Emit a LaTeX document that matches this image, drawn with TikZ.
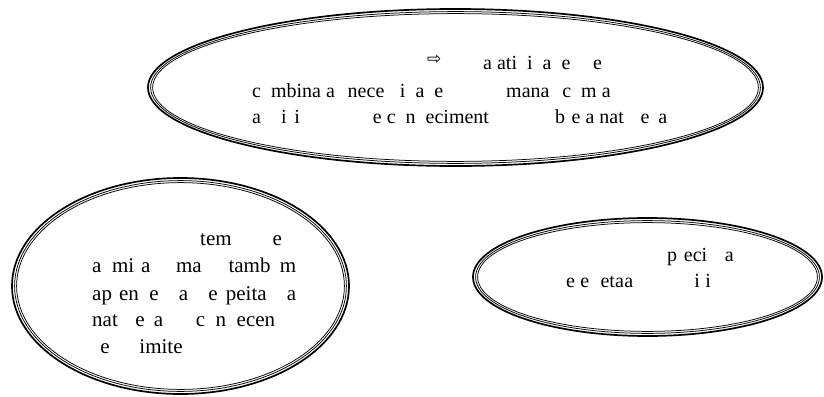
\documentclass[tikz,border=0pt]{standalone}
\usepackage{fontspec}
\setmainfont{Liberation Serif}
\newfontfamily\arrowfont{DejaVu Sans}

% three concentric outlines: a heavy outer ring and two thin inner rings
\newcommand{\ringellipse}[3]{%
  \draw[outerring] #1 ellipse [x radius=#2pt, y radius=#3pt];
  \draw[innerring] #1 ellipse [x radius=#2pt-2.6pt, y radius=#3pt-2.6pt];
  \draw[innerring] #1 ellipse [x radius=#2pt-4.6pt, y radius=#3pt-4.6pt];
}

\tikzset{
  outerring/.style={draw=black, line width=1.7pt},
  innerring/.style={draw=black, line width=0.75pt},
  txt/.style={inner sep=0pt, anchor=base west, font=\fontsize{20pt}{24pt}\selectfont},
  bigtxt/.style={inner sep=0pt, anchor=base west, font=\fontsize{21pt}{26pt}\selectfont},
  arrowtxt/.style={inner sep=0pt, anchor=base west, font=\arrowfont\fontsize{17pt}{17pt}\selectfont},
}

\begin{document}
\begin{tikzpicture}[x=1pt, y=-1pt]
\fill[white] (0,0) rectangle (824,396);
\useasboundingbox (0,0) rectangle (824,396);

% outlines
\ringellipse{(455.5,87.5)}{307.5}{78.5}
\ringellipse{(180.5,286)}{168.5}{108}
\ringellipse{(647.5,277)}{174.5}{59}

% upper ellipse
\node[arrowtxt] (topArrow) at (427,64.5) {⇨};
\node[txt] (topA) at (483,70) {a ati\phantom{v}i\phantom{d}a\phantom{d}e\phantom{s} \phantom{d}e};
\node[txt] (topB) at (252,97) {c\phantom{o}mbina a\phantom{s} nece\phantom{ss}i\phantom{d}a\phantom{d}e\hspace{63pt}mana\phantom{s} c\phantom{o}m a};
\node[txt] (topC) at (252,123) {a\phantom{qu}i\phantom{s}i\hspace{73pt}e c\phantom{o}n\phantom{h}eciment\hspace{66pt}b\phantom{r}e a nat\phantom{ur}e\phantom{z}a};

% left ellipse
\node[bigtxt] (leftA) at (200,245) {tem\hspace{41pt}e};
\node[bigtxt] (leftB) at (92,272.5) {\makebox[204pt][s]{a\phantom{d}mi\phantom{r}a\phantom{r} ma\phantom{s} tamb\phantom{é}m}};
\node[bigtxt] (leftC) at (92,300) {\makebox[204pt][s]{ap\phantom{r}en\phantom{d}e\phantom{r} a \phantom{r}e\phantom{s}peita\phantom{r} a}};
\node[bigtxt] (leftD) at (92,326.5) {\makebox[204pt][s]{nat\phantom{ur}e\phantom{z}a c\phantom{o}n\phantom{h}ecen\phantom{do}}};
\node[bigtxt] (leftE) at (92,353) {\phantom{s}e\phantom{us l}imite\phantom{s}};

% right ellipse
\node[txt] (rightA) at (667,261) {p\phantom{r}eci\phantom{os}a};
\node[txt] (rightB) at (566,287) {e\hspace{5.3pt}e\hspace{11.3pt}eta\hspace{0.5pt}a\hspace{61pt}i\hspace{5.6pt}i};
\end{tikzpicture}
\end{document}
